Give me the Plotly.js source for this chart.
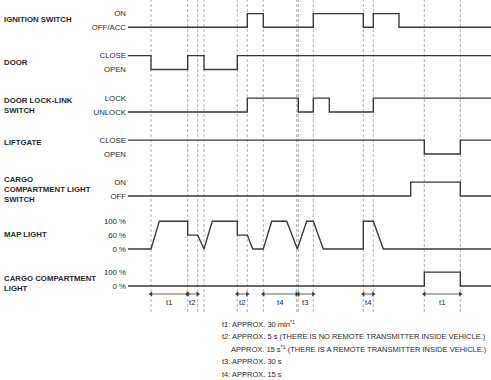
<!DOCTYPE html>
<html>
<head>
<meta charset="utf-8">
<script src="https://cdn.plot.ly/plotly-3.0.1.min.js"></script>
<style>html,body{margin:0;padding:0;background:#fff;}#chart{width:491px;height:380px;}</style>
</head>
<body>
<div id="chart"></div>
<script>
// ---- DATA (time in diagram units, levels as state indices) ----
const rowNames = ['IGNITION SWITCH', 'DOOR', 'DOOR LOCK-LINK<br>SWITCH', 'LIFTGATE',
  'CARGO<br>COMPARTMENT LIGHT<br>SWITCH', 'MAP LIGHT', 'CARGO COMPARTMENT<br>LIGHT'];
const levelLabels = [
  ['OFF/ACC', 'ON'],
  ['OPEN', 'CLOSE'],
  ['UNLOCK', 'LOCK'],
  ['OPEN', 'CLOSE'],
  ['OFF', 'ON'],
  ['0 %', '60 %', '100 %'],
  ['0 %', '100 %']
];
const ignitionTime = [128, 247.3, 263.3, 313.3, 363.3, 373.3, 399, 491];
const ignitionState = [0, 1, 0, 1, 0, 1, 0, 0];
const doorTime = [128, 151, 187.7, 204, 237.3, 491];
const doorState = [1, 0, 1, 0, 1, 1];
const lockTime = [128, 247.3, 298.3, 313.3, 329.3, 373.3, 491];
const lockState = [0, 1, 0, 1, 0, 1, 1];
const liftgateTime = [128, 424.3, 460.3, 491];
const liftgateState = [1, 0, 1, 1];
const cargoSwitchTime = [128, 410.7, 460.3, 491];
const cargoSwitchState = [0, 1, 0, 0];
const mapLightTime = [128, 151, 159.3, 187.7, 187.7, 197.7, 204, 212.3, 237.3, 237.3, 247.3, 252.7,
  263.3, 271.7, 286.7, 297.3, 306.7, 313.3, 323.3, 363.3, 363.3, 373.3, 383.3, 491];
const mapLightPct = [0, 0, 100, 100, 60, 60, 0, 100, 100, 60, 60, 0,
  0, 100, 100, 0, 100, 100, 0, 0, 100, 100, 0, 0];
const cargoLightTime = [128, 424.3, 460.3, 491];
const cargoLightPct = [0, 100, 0, 0];
const markerTimes = [151, 187.7, 197.7, 204, 237.3, 247.3, 263.3, 296.7, 298.3, 313.3, 363.3, 373.3, 424.3, 460.3];
const intervalLabels = ['t1', 't2', 't2', 't4', 't3', 't4', 't1'];
const intervalStart = [151, 187.7, 237.3, 263.3, 298.3, 363.3, 424.3];
const intervalEnd = [187.7, 197.7, 247.3, 296.7, 313.3, 373.3, 460.3];
const notes = [
  't1: APPROX. 30 min<sup>*1</sup>',
  't2: APPROX. 5 s (THERE IS NO REMOTE TRANSMITTER INSIDE VEHICLE.)',
  'APPROX. 15 s<sup>*1</sup> (THERE IS A REMOTE TRANSMITTER INSIDE VEHICLE.)',
  't3: APPROX. 30 s',
  't4: APPROX. 15 s'
];

// ---- LAYOUT HELPERS ----
const W = 491, H = 380, L = 128;
const FONT = 'Liberation Sans, Arial, sans-serif';
const TXT = '#2a2a2a';
const LINE = '#383838';
const px2x = p => (p - L) / (W - L);
const py2y = p => 1 - p / H;

const mapIdx = {0: 0, 60: 1, 100: 2};
const cargoIdx = {0: 0, 100: 1};
const series = [
  {t: ignitionTime, v: ignitionState, shape: 'hv'},
  {t: doorTime, v: doorState, shape: 'hv'},
  {t: lockTime, v: lockState, shape: 'hv'},
  {t: liftgateTime, v: liftgateState, shape: 'hv'},
  {t: cargoSwitchTime, v: cargoSwitchState, shape: 'hv'},
  {t: mapLightTime, v: mapLightPct.map(p => mapIdx[p]), shape: 'linear'},
  {t: cargoLightTime, v: cargoLightPct.map(p => cargoIdx[p]), shape: 'hv'}
];
const baseY = [27, 69.5, 112, 154, 196, 249, 286];   // pixel row of level 0
const step = 13.9;
const nameY = [20, 62, 106, 142.7, 189, 234.3, 283];

const layout = {
  width: W, height: H,
  margin: {l: L, r: 0, t: 0, b: 0, pad: 0},
  paper_bgcolor: '#fff', plot_bgcolor: 'rgba(0,0,0,0)',
  showlegend: false,
  font: {family: FONT, color: TXT, size: 7.8},
  xaxis: {range: [L, W], visible: false, fixedrange: true},
  shapes: [], annotations: []
};

const traces = [];
series.forEach((s, i) => {
  const n = levelLabels[i].length;
  const y0 = baseY[i];
  const bottom = y0 + step, top = y0 - n * step;
  const key = i === 0 ? 'yaxis' : 'yaxis' + (i + 1);
  layout[key] = {
    domain: [py2y(bottom), py2y(top)],
    range: [-1, n],
    anchor: 'x',
    tickvals: levelLabels[i].map((_, k) => k),
    ticktext: levelLabels[i],
    ticks: '', showgrid: false, zeroline: false, showline: false,
    tickfont: {family: FONT, size: 7.8, color: TXT},
    ticklabelstandoff: 1,
    fixedrange: true
  };
  traces.push({
    type: 'scatter', mode: 'lines', x: s.t, y: s.v,
    xaxis: 'x', yaxis: i === 0 ? 'y' : 'y' + (i + 1),
    line: {color: LINE, width: 1.35, shape: s.shape},
    hoverinfo: 'skip'
  });
  layout.annotations.push({
    xref: 'paper', yref: 'paper', x: px2x(2), y: py2y(nameY[i]),
    xanchor: 'left', yanchor: 'middle', align: 'left', showarrow: false,
    text: '<b>' + rowNames[i] + '</b>',
    font: {family: FONT, size: 7.8, color: TXT}
  });
});

// interval arrows: own thin axis band around the arrow row
layout.yaxis8 = {domain: [py2y(298), py2y(290)], range: [-1, 1], anchor: 'x', visible: false, fixedrange: true};
const ax = [], ay = [], sym = [];
intervalStart.forEach((s, i) => {
  ax.push(s, intervalEnd[i], null);
  ay.push(0, 0, null);
  sym.push('triangle-left', 'triangle-right', 'circle');
});
traces.push({
  type: 'scatter', mode: 'lines+markers', x: ax, y: ay, xaxis: 'x', yaxis: 'y8',
  line: {color: LINE, width: 0.8},
  marker: {symbol: sym, size: 4.5, color: LINE, line: {width: 0}},
  cliponaxis: false, hoverinfo: 'skip'
});

markerTimes.forEach(t => {
  layout.shapes.push({
    type: 'line', xref: 'x', yref: 'paper', x0: t, x1: t, y0: py2y(312), y1: 1,
    layer: 'below', line: {color: '#9a9a9a', width: 0.8, dash: '3px,2px'}
  });
});

intervalLabels.forEach((lab, i) => {
  layout.annotations.push({
    xref: 'x', yref: 'paper', x: (intervalStart[i] + intervalEnd[i]) / 2, y: py2y(302),
    xanchor: 'center', yanchor: 'middle', showarrow: false, text: lab,
    font: {family: FONT, size: 7.8, color: TXT}
  });
});

const noteY = [324, 336.5, 349, 361.5, 374];
notes.forEach((n, i) => {
  layout.annotations.push({
    xref: 'paper', yref: 'paper', x: px2x(i === 2 ? 229 : 220), y: py2y(noteY[i]),
    xanchor: 'left', yanchor: 'middle', align: 'left', showarrow: false,
    text: n.replace(/<sup>(.*?)<\/sup>/g, '<sup><span style="color:' + TXT + '">$1</span></sup>'),
    font: {family: FONT, size: 7.5, color: TXT}
  });
});

Plotly.newPlot('chart', traces, layout, {staticPlot: true, displayModeBar: false});
</script>
</body>
</html>
